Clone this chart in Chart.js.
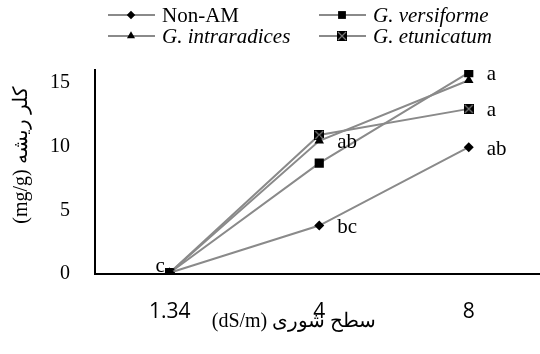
<!DOCTYPE html>
<html>
<head>
<meta charset="utf-8">
<script src="https://cdn.jsdelivr.net/npm/chart.js@4/dist/chart.umd.min.js"></script>
<style>
  html, body { margin: 0; padding: 0; background: #fff; overflow: hidden; }
  #wrap { width: 540px; height: 354px; overflow: hidden; }
  canvas { display: block; }
</style>
</head>
<body>
<div id="wrap"><canvas id="c" width="550" height="354"></canvas></div>
<script>
// ---- data ----
const categories = ['1.34', '4', '8'];
const seriesNames = ['Non-AM', 'G. versiforme', 'G. intraradices', 'G. etunicatum'];
const nonAM = [0.1, 3.8, 9.95];
const versiforme = [0.1, 8.7, 15.8];
const intraradices = [0.1, 10.45, 15.2];
const etunicatum = [0.1, 10.9, 12.95];
const yTicks = [0, 5, 10, 15];
const xTitle = '(dS/m) سطح شوری';
const yTitle = '(mg/g) کلر ریشه';
// significance letters: [text, category index, value it sits beside]
const letters = [
  ['c', 0, 0.1],
  ['ab', 1, 10.45],
  ['bc', 1, 3.8],
  ['a', 2, 15.8],
  ['a', 2, 12.95],
  ['ab', 2, 9.95]
];

// custom marker: black square with grey cross
function crossSquare() {
  const c = document.createElement('canvas');
  c.width = 10; c.height = 10;
  const g = c.getContext('2d');
  g.fillStyle = '#000'; g.fillRect(0, 0, 10, 10);
  g.strokeStyle = '#777'; g.lineWidth = 1.2;
  g.beginPath(); g.moveTo(1, 1); g.lineTo(9, 9); g.moveTo(9, 1); g.lineTo(1, 9); g.stroke();
  return c;
}
const xSq = crossSquare();

const styles = [
  { pointStyle: 'rectRot', radius: 5 },
  { pointStyle: 'rect', radius: 6.5 },
  { pointStyle: 'triangle', radius: 5.5 },
  { pointStyle: xSq, radius: 5 }
];
const values = [nonAM, versiforme, intraradices, etunicatum];

const datasets = values.map((v, i) => ({
  label: seriesNames[i],
  data: v,
  borderColor: '#8a8a8a',
  borderWidth: 2,
  pointStyle: styles[i].pointStyle,
  pointRadius: styles[i].radius,
  pointHoverRadius: styles[i].radius,
  pointBackgroundColor: '#000',
  pointBorderColor: '#000',
  pointBorderWidth: 0,
  tension: 0,
  fill: false
}));

const serif = '"Liberation Serif", "Times New Roman", serif';

const decor = {
  id: 'decor',
  afterDatasetsDraw(chart) {
    const ctx = chart.ctx;
    const xs = chart.scales.x, ys = chart.scales.y;
    ctx.save();
    ctx.direction = 'ltr';
    // significance letters
    ctx.fillStyle = '#000';
    ctx.font = '21px ' + serif;
    ctx.textBaseline = 'middle';
    letters.forEach(([t, ci, v]) => {
      const px = xs.getPixelForValue(ci);
      const py = ys.getPixelForValue(v);
      if (ci === 0) {
        ctx.textAlign = 'right';
        ctx.fillText(t, px - 5, py - 6);
      } else {
        ctx.textAlign = 'left';
        ctx.fillText(t, px + 18, py + 2);
      }
    });
    // axis titles
    ctx.font = '20px ' + serif;
    ctx.textAlign = 'center';
    ctx.fillText(xTitle, 294, 322);
    ctx.save();
    ctx.translate(22, 155);
    ctx.rotate(-Math.PI / 2);
    ctx.fillText(yTitle, 0, 0);
    ctx.restore();
    // legend
    const colX = [108, 319], rowY = [15, 36];
    chart.data.datasets.forEach((ds, i) => {
      const x0 = colX[i % 2], y0 = rowY[Math.floor(i / 2)];
      ctx.strokeStyle = '#8a8a8a';
      ctx.lineWidth = 2;
      ctx.beginPath(); ctx.moveTo(x0, y0); ctx.lineTo(x0 + 47, y0); ctx.stroke();
      ctx.fillStyle = '#000';
      Chart.helpers.drawPoint(ctx, { pointStyle: ds.pointStyle, radius: ds.pointRadius * 0.85, rotation: 0, borderWidth: 0 }, x0 + 23, y0);
      ctx.fillStyle = '#000';
      ctx.font = (i === 0 ? '' : 'italic ') + '21px ' + serif;
      ctx.textAlign = 'left';
      ctx.textBaseline = 'middle';
      ctx.fillText(ds.label, x0 + 54, y0 + 1);
    });
    ctx.restore();
  }
};

new Chart(document.getElementById('c'), {
  type: 'line',
  data: { labels: categories, datasets },
  options: {
    responsive: false,
    animation: false,
    events: [],
    layout: { padding: { top: 70, right: 5, left: 0, bottom: 0 } },
    plugins: { legend: { display: false }, tooltip: { enabled: false } },
    scales: {
      x: {
        offset: true,
        grid: { display: false, drawTicks: false },
        border: { display: true, color: '#000', width: 2 },
        ticks: { color: '#000', padding: 25, font: { family: '"Open Sans", sans-serif', size: 21 } },
        afterFit(s) { s.height = 80; }
      },
      y: {
        min: 0, max: 16,
        grid: { display: false, drawTicks: false },
        border: { display: true, color: '#000', width: 2 },
        ticks: { color: '#000', padding: 25, font: { family: serif, size: 20 }, stepSize: 5 },
        afterBuildTicks(s) { s.ticks = yTicks.map(v => ({ value: v })); },
        afterFit(s) { s.width = 95; }
      }
    }
  },
  plugins: [decor]
});
</script>
</body>
</html>
